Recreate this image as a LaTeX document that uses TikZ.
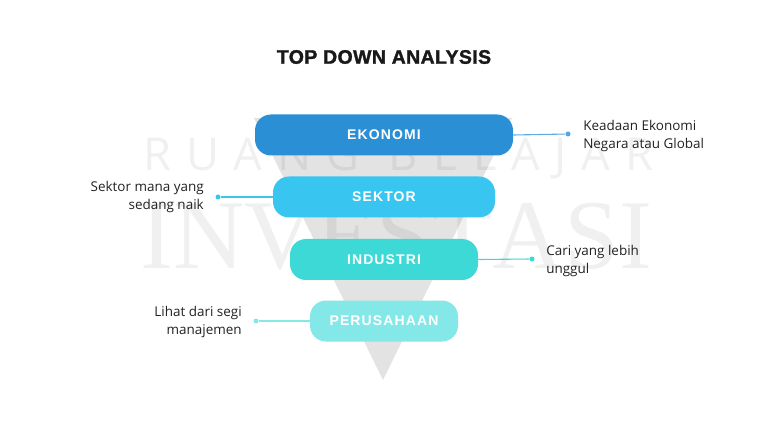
\documentclass[tikz,border=0pt]{standalone}
\usepackage{fontspec}
\setmainfont{Open Sans}
\newfontfamily\labfont[LetterSpace=8]{Liberation Sans}
\newfontfamily\titlefont[FakeBold=1.5,LetterSpace=2]{Liberation Sans}
\newfontfamily\wmsans{Open Sans}
\newfontfamily\wmserif{Liberation Serif}
\newdimen\pu \pu=0.75pt
\definecolor{cEko}{HTML}{2B8FD6}
\definecolor{cSek}{HTML}{38C6F0}
\definecolor{cInd}{HTML}{3DD9D6}
\definecolor{cPer}{HTML}{85E8E8}
\definecolor{txt}{HTML}{222222}
\tikzset{
  bar/.style={rounded corners=16\pu, minimum height=41\pu, inner sep=0pt,
    text=white, font=\labfont\bfseries\fontsize{10.5}{12}\selectfont},
  conn/.style={line width=1.1\pu},
  dotmark/.style={circle, inner sep=0pt, minimum size=5\pu},
  note/.style={text=txt, font=\fontsize{10.1}{13.6}\selectfont, inner sep=0pt}
}
\begin{document}
\begin{tikzpicture}[x=0.75pt,y=-0.75pt]
\useasboundingbox[fill=white] (0,0) rectangle (768,424);
% watermark
\node[text=black, opacity=0.06, inner sep=0pt, anchor=south west, font=\wmsans\fontsize{34}{34}\selectfont] (wm1) at (143,179)
  {\hbox to 510\pu{R\hfill U\hfill A\hfill N\hfill G\hfill\hfill B\hfill E\hfill L\hfill A\hfill J\hfill A\hfill R}};
\node[text=black, opacity=0.06, inner sep=0pt, anchor=base west, font=\wmserif\fontsize{74}{74}\selectfont] (wm2) at (140,268)
  {\hbox to 512\pu{I\hfil N\hfil V\hfil E\hfil S\hfil T\hfil A\hfil S\hfil I}};
% funnel
\fill[black, opacity=0.11] (254,118) -- (512,118) -- (383,380) -- cycle;
\node[note, font=\titlefont\bfseries\fontsize{14.6}{16}\selectfont, text=black!90] (title) at (384,57) {TOP DOWN ANALYSIS};
% bars
\node[bar, fill=cEko, minimum width=258\pu] (eko) at (384,135) {EKONOMI};
\node[bar, fill=cSek, minimum width=222\pu] (sek) at (384,197) {SEKTOR};
\node[bar, fill=cInd, minimum width=188\pu] (ind) at (384,259.5) {INDUSTRI};
\node[bar, fill=cPer, minimum width=148\pu] (per) at (384,321) {PERUSAHAAN};
% connector ends
\node[dotmark, fill=cEko!80] (d1) at (568,134) {};
\node[dotmark, fill=cSek] (d2) at (218,197) {};
\node[dotmark, fill=cInd] (d3) at (532,259) {};
\node[dotmark, fill=cPer] (d4) at (256,321) {};
\draw[conn, cEko!75] (eko.east) -- (d1);
\draw[conn, cSek] (sek.west) -- (d2);
\draw[conn, cInd] (ind.east) -- (d3);
\draw[conn, cPer] (per.west) -- (d4);
% notes
\node[note, anchor=west, align=left] (t1) at (583,136) {Keadaan Ekonomi\\Negara atau Global};
\node[note, anchor=east, align=right] (t2) at (204,197) {Sektor mana yang\\sedang naik};
\node[note, anchor=west, align=left] (t3) at (546,261) {Cari yang lebih\\unggul};
\node[note, anchor=east, align=right] (t4) at (242,322) {Lihat dari segi\\manajemen};
\end{tikzpicture}
\end{document}
